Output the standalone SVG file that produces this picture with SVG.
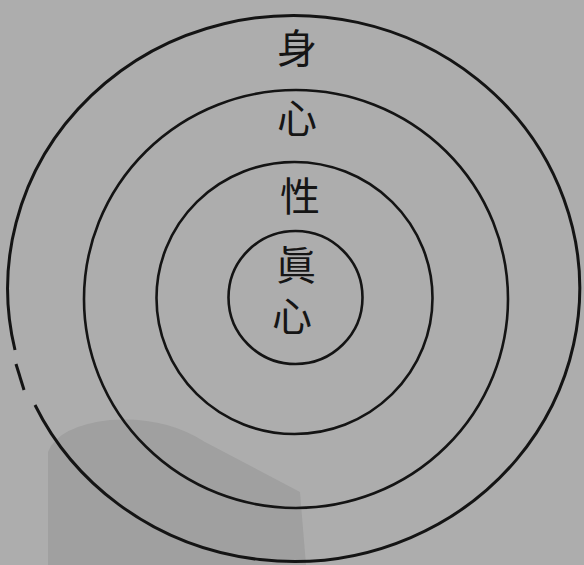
<svg xmlns="http://www.w3.org/2000/svg" width="584" height="565" viewBox="0 0 584 565">
  <style>
    .ring { fill: none; stroke: #141414; stroke-width: 2.6; }
    .outer { fill: none; stroke: #141414; stroke-width: 3; }
    .lbl { font-family: "Liberation Sans", "Noto Sans CJK TC", "Noto Sans CJK SC", sans-serif; font-size: 40px; fill: #151515; text-anchor: middle; }
  </style>
  <rect id="background" x="0" y="0" width="584" height="565" fill="#adadad"/>
  <path id="stamp" d="M 48 565 L 48 452 Q 58 426 110 420 Q 165 416 205 442 L 300 492 L 306 565 Z" fill="#a0a0a0"/>
  <g id="ring-body">
    <path class="outer" d="M 15 350 A 286 273 0 1 1 35 405"/>
    <path class="outer" d="M 16 364 L 24 390" stroke-width="2"/>
  </g>
  <g id="ring-mind">
    <ellipse class="ring" cx="296" cy="299" rx="212" ry="209"/>
  </g>
  <g id="ring-nature">
    <ellipse class="ring" cx="294.5" cy="298" rx="138" ry="136"/>
  </g>
  <g id="ring-truemind">
    <ellipse class="ring" cx="295.5" cy="297.5" rx="67" ry="66.5"/>
  </g>
  <g id="label-shen"><text class="lbl" x="297" y="63">身</text></g>
  <g id="label-xin"><text class="lbl" x="297" y="133">心</text></g>
  <g id="label-xing"><text class="lbl" x="300" y="211">性</text></g>
  <g id="label-zhen"><text class="lbl" x="296" y="280">眞</text></g>
  <g id="label-xin2"><text class="lbl" x="292" y="331">心</text></g>
</svg>
